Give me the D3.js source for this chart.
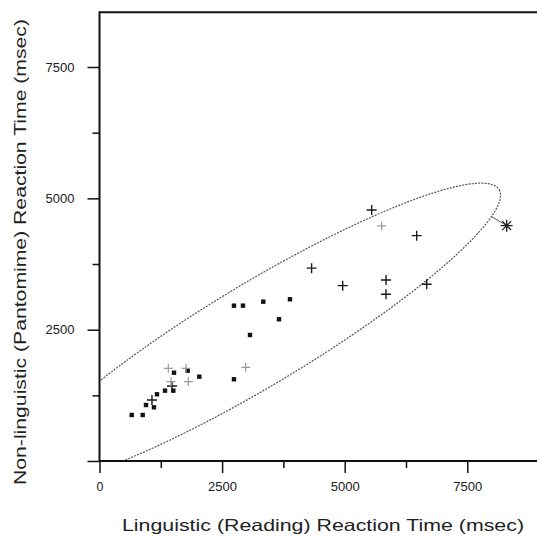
<!DOCTYPE html>
<html>
<head>
<meta charset="utf-8">
<script src="https://cdnjs.cloudflare.com/ajax/libs/d3/7.8.5/d3.min.js"></script>
<style>
  body { margin: 0; background: #fff; }
  svg { display: block; }
  text { font-family: "Liberation Sans", Arial, sans-serif; fill: #222; }
</style>
</head>
<body>
<div id="chart"></div>
<script>
// data (msec)
var squares = [
    [657, 876], [881, 876], [948, 1066], [1111, 1022], [1172, 1270],
    [1336, 1339], [1505, 1339], [1519, 1681], [1798, 1719], [2035, 1605],
    [2742, 1556], [2742, 2957], [2926, 2957], [3340, 3033], [3884, 3079],
    [3660, 2698], [3069, 2399]
];
var pluses = [
    [1478, 1428], [1070, 1161], [4325, 3671], [5550, 4779], [6468, 4290],
    [4959, 3338], [5842, 3446], [5842, 3174], [6672, 3364]
];
var lightPluses = [
    [1403, 1765], [1764, 1765], [1811, 1510], [1458, 1510], [2981, 1784], [5754, 4474]
];
var outlier = [[8303, 4480]];

// confidence ellipse: centre, major and minor half-axis vectors (msec)
var ellipseCentre = [3256, 2420];
var ellipseMajor = [4894, 2746];
var ellipseMinor = [536, -832];

var majorTicks = [0, 2500, 5000, 7500];
var minorTicks = [1250, 3750, 6250];
var xTitle = "Linguistic (Reading) Reaction Time (msec)";
var yTitle = "Non-linguistic (Pantomime) Reaction Time (msec)";

var width = 537, height = 539;
var xMax = 9000, yMax = 8540;

var svg = d3.select("#chart").append("svg")
    .attr("width", width)
    .attr("height", height);

var x = d3.scaleLinear().domain([0, 7500]).range([99.5, 467.3]);
var y = d3.scaleLinear().domain([0, 7500]).range([461, 67]);

// clip to plot area
svg.append("clipPath").attr("id", "plot")
    .append("rect")
    .attr("x", x(0)).attr("y", y(yMax))
    .attr("width", x(xMax) - x(0))
    .attr("height", y(0) - y(yMax));

// ellipse
var ell = d3.range(0, 361, 2).map(function (deg) {
    var t = deg * Math.PI / 180;
    return [ellipseCentre[0] + Math.cos(t) * ellipseMajor[0] + Math.sin(t) * ellipseMinor[0],
            ellipseCentre[1] + Math.cos(t) * ellipseMajor[1] + Math.sin(t) * ellipseMinor[1]];
});
var line = d3.line()
    .x(function (d) { return x(d[0]); })
    .y(function (d) { return y(d[1]); });

var plotG = svg.append("g").attr("clip-path", "url(#plot)");

plotG.append("path")
    .attr("d", line(ell))
    .attr("fill", "none")
    .attr("stroke", "#555")
    .attr("stroke-width", 1.2)
    .attr("stroke-dasharray", "2,1.2");

// connector from ellipse to the outlier
var o = outlier[0];
var nearest = d3.least(ell, function (p) {
    var dx = x(p[0]) - x(o[0]), dy = y(p[1]) - y(o[1]);
    return dx * dx + dy * dy;
});
plotG.append("line")
    .attr("x1", x(nearest[0])).attr("y1", y(nearest[1]))
    .attr("x2", x(o[0])).attr("y2", y(o[1]))
    .attr("stroke", "#555").attr("stroke-width", 1);

// squares
plotG.selectAll("rect.sq").data(squares).enter().append("rect")
    .attr("class", "sq")
    .attr("x", function (d) { return x(d[0]) - 2.2; })
    .attr("y", function (d) { return y(d[1]) - 2.2; })
    .attr("width", 4.4).attr("height", 4.4)
    .attr("fill", "#111");

function plusPath(s) {
    return "M" + (-s) + ",0H" + s + "M0," + (-s) + "V" + s;
}

plotG.selectAll("path.plus").data(pluses).enter().append("path")
    .attr("class", "plus")
    .attr("transform", function (d) { return "translate(" + x(d[0]) + "," + y(d[1]) + ")"; })
    .attr("d", plusPath(5))
    .attr("stroke", "#1a1a1a").attr("stroke-width", 1.4);

plotG.selectAll("path.lplus").data(lightPluses).enter().append("path")
    .attr("class", "lplus")
    .attr("transform", function (d) { return "translate(" + x(d[0]) + "," + y(d[1]) + ")"; })
    .attr("d", plusPath(4.5))
    .attr("stroke", "#999").attr("stroke-width", 1.2);

plotG.selectAll("path.star").data(outlier).enter().append("path")
    .attr("class", "star")
    .attr("transform", function (d) { return "translate(" + x(d[0]) + "," + y(d[1]) + ")"; })
    .attr("d", "M-6,0H6M0,-6V6M-4.5,-4.5L4.5,4.5M-4.5,4.5L4.5,-4.5")
    .attr("stroke", "#222").attr("stroke-width", 1.3);

// axes
var xAxis = svg.append("g")
    .attr("transform", "translate(0," + y(0) + ")")
    .call(d3.axisBottom(x).tickValues(majorTicks).tickSize(12).tickPadding(9).tickFormat(d3.format("d")));
var xMinor = svg.append("g")
    .attr("transform", "translate(0," + y(0) + ")")
    .call(d3.axisBottom(x).tickValues(minorTicks).tickSize(7).tickFormat(""));
var yAxis = svg.append("g")
    .attr("transform", "translate(" + x(0) + ",0)")
    .call(d3.axisLeft(y).tickValues(majorTicks).tickSize(12).tickPadding(13)
        .tickFormat(function (d) { return d === 0 ? "" : d; }));
var yMinor = svg.append("g")
    .attr("transform", "translate(" + x(0) + ",0)")
    .call(d3.axisLeft(y).tickValues(minorTicks).tickSize(7).tickFormat(""));

[xAxis, xMinor, yAxis, yMinor].forEach(function (g) {
    g.select(".domain").remove();
    g.selectAll(".tick line").attr("stroke", "#111").attr("stroke-width", 1.5);
    g.selectAll(".tick text")
        .style("font-family", "'Liberation Sans', Arial, sans-serif")
        .style("font-size", "12.5px")
        .attr("fill", "#222")
        .each(function (d) {
            if (String(d).length === 4) d3.select(this).attr("textLength", 29).attr("lengthAdjust", "spacingAndGlyphs");
        });
});

// frame: left, bottom, top
svg.append("path")
    .attr("d", "M" + x(xMax) + "," + y(yMax) + "H" + x(0) + "V" + y(0) + "H" + x(xMax))
    .attr("fill", "none")
    .attr("stroke", "#111")
    .attr("stroke-width", 2);

// titles
svg.append("text")
    .attr("x", 323).attr("y", 531)
    .attr("text-anchor", "middle")
    .attr("textLength", 402)
    .attr("lengthAdjust", "spacingAndGlyphs")
    .style("font-size", "16.5px")
    .text(xTitle);

svg.append("text")
    .attr("transform", "translate(26,252) rotate(-90)")
    .attr("text-anchor", "middle")
    .attr("textLength", 466)
    .attr("lengthAdjust", "spacingAndGlyphs")
    .style("font-size", "16.5px")
    .text(yTitle);
</script>
</body>
</html>
